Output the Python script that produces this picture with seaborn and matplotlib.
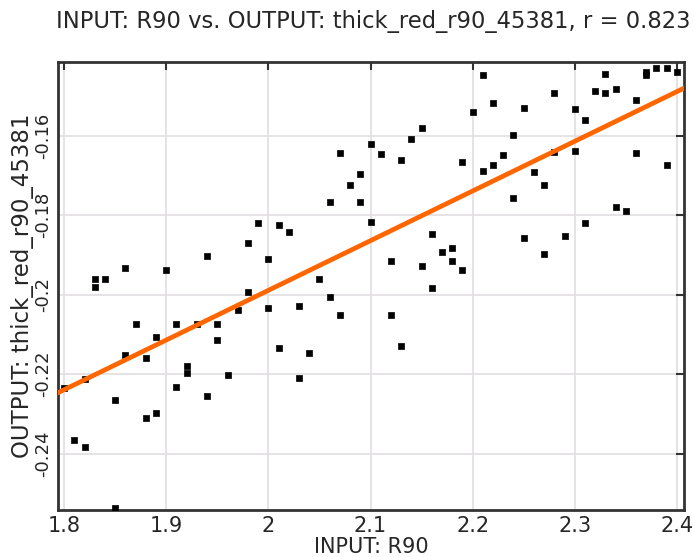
import numpy as np
import pandas as pd
import matplotlib
matplotlib.use("Agg")
import matplotlib.pyplot as plt
import matplotlib.transforms as mtransforms
import seaborn as sns

# values
r90 = [1.83, 1.83, 1.84, 1.86, 1.90, 1.94, 1.98, 1.99, 2.00, 2.01,
       2.02, 2.05, 2.06, 2.07, 2.08, 2.09, 2.09, 2.10, 2.10, 2.11,
       2.13, 2.14, 2.15, 2.16, 2.17, 2.18, 2.18, 2.19, 2.12, 2.15,
       2.19, 2.20, 2.21, 2.21, 2.22, 2.25, 2.28, 2.24, 2.23, 2.22,
       2.28, 2.26, 2.27, 2.24, 2.25, 2.29, 2.27, 2.30, 2.31, 2.30,
       2.31, 2.32, 2.33, 2.34, 2.33, 2.36, 2.36, 2.37, 2.37, 2.38,
       2.39, 2.40, 2.39, 2.34, 2.35, 1.80, 1.82, 1.81, 1.82, 1.85,
       1.85, 1.86, 1.87, 1.88, 1.88, 1.89, 1.89, 1.91, 1.91, 1.92,
       1.92, 1.93, 1.94, 1.95, 1.95, 1.96, 1.97, 1.98, 2.00, 2.03,
       2.06, 2.07, 2.01, 2.04, 2.03, 2.12, 2.13, 2.16]
thick_red = [-0.1960, -0.1980, -0.1960, -0.1933, -0.1938, -0.1902, -0.1870, -0.1820, -0.1910, -0.1824,
             -0.1843, -0.1960, -0.1766, -0.1642, -0.1723, -0.1696, -0.1766, -0.1620, -0.1816, -0.1646,
             -0.1661, -0.1608, -0.1579, -0.1848, -0.1892, -0.1883, -0.1915, -0.1938, -0.1915, -0.1928,
             -0.1665, -0.1539, -0.1448, -0.1688, -0.1516, -0.1529, -0.1493, -0.1597, -0.1647, -0.1674,
             -0.1640, -0.1692, -0.1724, -0.1756, -0.1856, -0.1852, -0.1897, -0.1533, -0.1561, -0.1639,
             -0.1820, -0.1487, -0.1493, -0.1483, -0.1443, -0.1510, -0.1642, -0.1438, -0.1448, -0.1429,
             -0.1429, -0.1438, -0.1674, -0.1779, -0.1788, -0.2236, -0.2213, -0.2365, -0.2384, -0.2265,
             -0.2536, -0.2152, -0.2074, -0.2160, -0.2311, -0.2106, -0.2297, -0.2074, -0.2233, -0.2179,
             -0.2198, -0.2074, -0.2255, -0.2074, -0.2115, -0.2201, -0.2038, -0.1992, -0.2033, -0.2028,
             -0.2006, -0.2052, -0.2133, -0.2147, -0.2210, -0.2052, -0.2128, -0.1984]
x_ticks = [1.8, 1.9, 2.0, 2.1, 2.2, 2.3, 2.4]
x_labels = ["1.8", "1.9", "2", "2.1", "2.2", "2.3", "2.4"]
y_ticks = [-0.24, -0.22, -0.2, -0.18, -0.16]
y_labels = ["-0.24", "-0.22", "-0.2", "-0.18", "-0.16"]

df = pd.DataFrame({"R90": r90, "thick_red": thick_red})
r = np.corrcoef(df["R90"], df["thick_red"])[0, 1]

sns.set_style("whitegrid", {"grid.color": "#e2dee2", "axes.edgecolor": "#333333"})
plt.rcParams["font.family"] = ["DejaVu Sans"]

fig = plt.figure(figsize=(6.94, 5.57), dpi=100)
ax = fig.add_axes([0.0836, 0.0844, 0.902, 0.8043])

sns.scatterplot(data=df, x="R90", y="thick_red", ax=ax, color="black",
                marker="s", s=20, edgecolor="black", linewidth=0.5, zorder=3)
sns.regplot(data=df, x="R90", y="thick_red", ax=ax, scatter=False, ci=None,
            truncate=False, color="#ff6600", line_kws={"linewidth": 3.4, "zorder": 4})

ax.set_xlim(1.794, 2.407)
ax.set_ylim(-0.2542, -0.1414)
ax.set_xticks(x_ticks)
ax.set_xticklabels(x_labels, fontsize=15)
ax.set_yticks(y_ticks)
ax.set_yticklabels(y_labels, rotation=90, va="center", fontsize=13)
# y tick labels sit a little above their ticks in the reference
shift = mtransforms.ScaledTranslation(0, 0.08, fig.dpi_scale_trans)
for lab in ax.get_yticklabels():
    lab.set_transform(lab.get_transform() + shift)
ax.tick_params(direction="in", length=6, width=1.5, color="#333333",
               top=True, right=True, pad=4)
for sp in ax.spines.values():
    sp.set_linewidth(2)
    sp.set_color("#333333")
ax.grid(True, color="#e2dee2", linewidth=1.2)

ax.set_xlabel("INPUT: R90", fontsize=15, labelpad=1)
ax.set_ylabel("OUTPUT: thick_red_r90_45381", fontsize=16.5, labelpad=0)
fig.text(0.995, 0.962, f"INPUT: R90 vs. OUTPUT: thick_red_r90_45381, r = {r:.3f}",
         fontsize=16.3, ha="right", va="center")

fig.savefig("out.png", dpi=100)
